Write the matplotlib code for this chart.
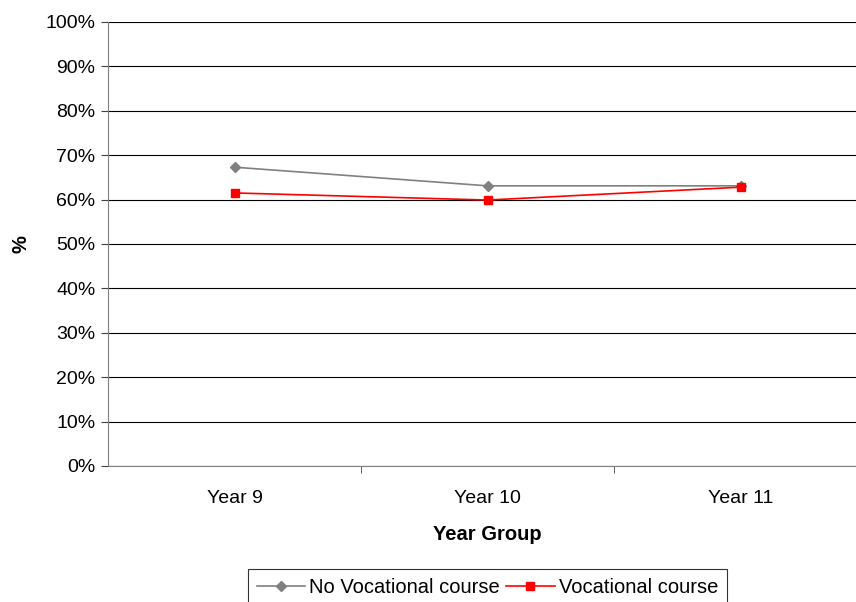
import matplotlib.pyplot as plt
from matplotlib.ticker import FixedLocator, PercentFormatter

plt.rcParams['font.family'] = ['Liberation Sans', 'DejaVu Sans']

years = ['Year 9', 'Year 10', 'Year 11']
no_vocational = [67.3, 63.1, 63.1]
vocational = [61.5, 59.9, 62.8]

fig = plt.figure(figsize=(8.56, 6.02), dpi=100)
ax = fig.add_axes([108 / 856, 136 / 602, 759 / 856, 444 / 602])

x = range(len(years))
ax.plot(x, no_vocational, color='#808080', lw=1.2, marker='D', ms=5.5,
        label='No Vocational course', clip_on=False)
ax.plot(x, vocational, color='#ff0000', lw=1.2, marker='s', ms=6,
        label='Vocational course', clip_on=False)

ax.set_xlim(-0.5, 2.5)
ax.set_ylim(0, 100)
ax.set_yticks(range(0, 101, 10))
ax.yaxis.set_major_formatter(PercentFormatter(decimals=0))
ax.set_xticks(list(x))
ax.set_xticklabels(years)
ax.xaxis.set_minor_locator(FixedLocator([0.5, 1.5]))
ax.tick_params(axis='x', which='major', length=0, pad=17, labelsize=14)
ax.tick_params(axis='x', which='minor', length=5, direction='out', color='#404040')
ax.tick_params(axis='y', length=5, direction='out', color='#404040', labelsize=14, pad=4)

ax.grid(axis='y', color='#000000', lw=0.8)
ax.set_axisbelow(True)
for side in ['top', 'right']:
    ax.spines[side].set_visible(False)
ax.spines['left'].set_color('#808080')
ax.spines['bottom'].set_color('#808080')

ax.set_xlabel('Year Group', fontsize=14.5, fontweight='bold', labelpad=13)
ax.set_ylabel('%', fontsize=14.5, fontweight='bold', labelpad=11)

leg = fig.legend(loc='upper left', bbox_to_anchor=(248 / 856, 1 - 569 / 602),
                 ncol=2, frameon=True, fancybox=False, edgecolor='#000000',
                 fontsize=14.5, handlelength=2.4, columnspacing=0.3,
                 handletextpad=0.2, borderpad=0.45, borderaxespad=0)
leg.get_frame().set_linewidth(0.8)

fig.savefig('out.png', dpi=100)
